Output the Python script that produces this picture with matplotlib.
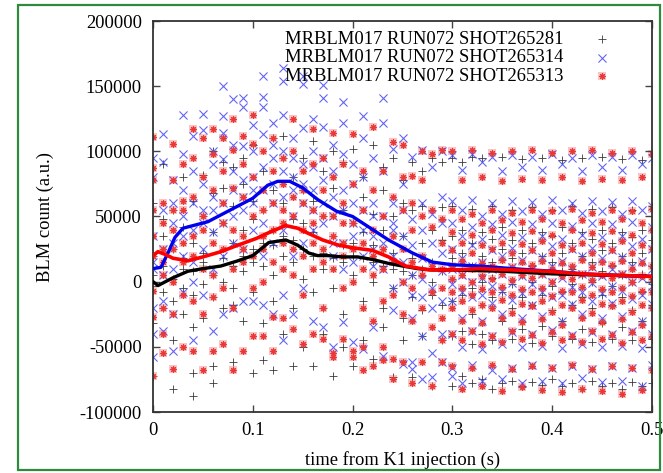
import matplotlib
matplotlib.use("Agg")
import matplotlib.pyplot as plt
from matplotlib.patches import Rectangle

plt.rcParams["font.family"] = ["Liberation Serif", "DejaVu Serif"]
plt.rcParams["font.size"] = 13.3

# sample times (s), one column of readings per time step
t_cols = [0.00, 0.01, 0.02, 0.03, 0.04, 0.05, 0.06, 0.07, 0.08, 0.09,
          0.10, 0.11, 0.12, 0.13, 0.14, 0.15, 0.16, 0.17, 0.18, 0.19,
          0.20, 0.21, 0.22, 0.23, 0.24, 0.25, 0.26, 0.27, 0.28, 0.29,
          0.30, 0.31, 0.32, 0.33, 0.34, 0.35, 0.36, 0.37, 0.38, 0.39,
          0.40, 0.41, 0.42, 0.43, 0.44, 0.45, 0.46, 0.47, 0.48, 0.49, 0.50]

# BLM counts in thousands, per time column
black_cols = [
    [-3, 5, 20, -32, -72, 60], [-8, 12, 35, -20, 48, 90], [2, -15, 25, -82, 55, -45],
    [10, -5, 42, 80, -25, 18], [-10, 8, 30, -88, -35, 62, -70], [15, -2, 50, 82, 22, -28],
    [5, -12, 38, -78, 100, 68, -65], [18, 0, 45, 72, -20, 92], [-5, 12, 30, 58, -62, -18, 88],
    [20, 8, 40, 75, -30, 95], [25, -8, 48, -70, 15, 105, 62], [30, 12, 55, -32, 85, -60],
    [28, 40, 5, 70, -68, 110, -15], [35, 20, 60, -40, 95, 112], [32, 15, 48, -65, 80, -20],
    [25, 45, 2, 95, -50, 70], [20, 38, -8, 62, 108, -65], [22, 10, 50, -40, 85, -20],
    [18, 35, -5, 72, -72, 100], [15, 28, 55, -25, 92, -50], [20, 5, 45, -65, 102, 30],
    [18, 38, -15, 80, -45, 65], [15, 28, 0, -59, 105, 52], [12, -20, 40, 88, -35, 70],
    [10, 22, -5, -73, 95, 50], [8, -28, 35, 78, -45, 60], [5, 18, -12, -73, 55, 92],
    [10, -22, 30, 58, -42, 85], [0, 15, -10, 95, -80, 40], [8, -18, 32, 57, -45, 92],
    [95, 58, 35, 18, 2, -15, -42, -80], [92, 40, 22, 8, -10, -38, -72],
    [96, 56, 30, 12, -5, -25, -48, -78], [95, 38, 20, 0, -18, -40, -75],
    [58, 33, 15, 3, -12, -45, -82], [96, 42, 25, 8, -8, -30, -78],
    [55, 32, 18, -2, -20, -44, -76], [94, 40, 22, 5, -12, -36, -80],
    [57, 30, 12, 0, -18, -47, -77], [95, 38, 20, 6, -10, -34, -79],
    [55, 35, 15, -3, -22, -42, -75], [93, 42, 22, 8, -8, -30, -80],
    [58, 30, 10, -2, -18, -44, -78], [95, 38, 20, 5, -12, -36, -82],
    [56, 33, 15, 0, -20, -46, -76], [96, 40, 24, 8, -10, -32, -80],
    [57, 30, 12, -3, -18, -44, -78], [94, 38, 20, 5, -12, -35, -82],
    [55, 34, 15, 0, -22, -45, -77], [93, 40, 22, 6, -8, -30, -80],
    [58, 32, 12, -2, -18, -44, -78],
]

blue_cols = [
    [10, 15, -20, -58, -40, 80, 95, 35], [5, 25, 113, 92, -38, 55, -15],
    [30, 45, 60, -53, 78, 10, -25], [50, 128, 98, 20, -8, 35, 70],
    [40, 60, 112, 85, -45, 15, 0], [45, 129, 116, 75, 25, -10, 55],
    [55, 38, -38, 90, 65, 10, 100], [150, 127, 94, 60, 45, 20, -25, 114],
    [50, 70, 30, -20, 85, 105, 140], [141, 134, 104, 65, 55, 25, -15, 78],
    [60, 80, 40, 100, -15, 120, 70], [158, 142, 134, 113, 88, 70, 45, -18, 20],
    [75, 95, 60, 122, 30, -25, 105], [164, 154, 128, 100, 85, 65, 40, -10, -45],
    [80, 110, 70, 50, 95, -25, 20], [158, 152, 118, 90, 60, 75, -5, 30],
    [70, 100, 55, 88, -30, 40, 125], [151, 141, 119, 95, 78, 45, 60, -35],
    [65, 85, 50, 105, -50, 20, 30], [138, 122, 98, 70, 55, 30, -31, 10],
    [60, 75, 45, 90, -46, 35, 15], [127, 110, 80, 55, 40, -52, 20],
    [60, 50, 35, 95, -35, 25, 12], [141, 122, 85, 50, 30, -57, 10],
    [45, 40, 102, 60, 20, -22, -5], [110, 75, 55, 35, -63, 15, 0],
    [96, 48, 28, 5, -10, -28, -67, -62], [101, 60, 40, 18, 2, -12, -42, -75],
    [88, 52, 30, 12, -5, -20, -55, -73], [100, 65, 45, 22, 8, -15, -40, -62],
    [97, 62, 45, 25, 10, -2, -15, -40, -66, -72], [86, 55, 35, 18, 5, -8, -28, -50, -78],
    [98, 63, 42, 28, 12, 0, -12, -38, -64], [92, 50, 33, 15, 3, -10, -30, -52, -76],
    [96, 60, 44, 24, 10, -3, -16, -42, -68], [85, 52, 36, 20, 6, -7, -25, -48, -75],
    [97, 62, 46, 26, 11, -1, -14, -39, -66], [88, 54, 34, 17, 4, -9, -28, -50, -78],
    [96, 61, 44, 24, 10, -2, -18, -40, -64], [86, 52, 35, 19, 6, -8, -26, -49, -76],
    [98, 63, 45, 27, 12, 0, -12, -37, -66], [90, 55, 33, 16, 3, -10, -30, -51, -78],
    [95, 60, 43, 25, 10, -4, -17, -41, -65], [85, 53, 36, 20, 6, -8, -25, -48, -74],
    [97, 62, 45, 26, 11, -1, -15, -39, -67], [88, 54, 34, 18, 4, -9, -28, -50, -77],
    [96, 61, 44, 24, 10, -3, -16, -40, -65], [86, 52, 35, 19, 6, -7, -26, -49, -76],
    [97, 62, 46, 27, 12, 0, -13, -38, -66], [90, 55, 33, 16, 3, -10, -30, -51, -80],
    [95, 58, 42, 25, 10, -3, -17, -40, -64],
]

red_cols = [
    [20, 111, 87, 78, -7, -27, 35, 55, -72], [15, 60, 25, -55, 5, -40, 45, -20],
    [106, 78, 40, -25, -67, 25, 0, 55], [55, 30, -10, 90, 15, -50, 62],
    [117, 95, 65, 20, -53, -15, 35], [40, 10, -25, 80, -68, 50, 110],
    [117, 98, 70, 30, -53, -12, 5], [60, 25, -48, 85, -5, 110, 45],
    [125, 101, 72, 40, 10, -68, -20], [65, 35, -53, 90, 15, 112, 25],
    [128, 106, 80, 50, 20, -42, -5], [70, 35, 100, -42, 0, 55, 25],
    [110, 85, 60, 40, -27, -53, 15], [75, 45, 95, -28, 10, 55, 30],
    [125, 100, 65, 50, 25, -36, 5], [60, 40, 85, -48, 20, 70, -10],
    [117, 90, 55, 30, -40, 10, 45], [70, 25, -44, 95, 15, 50, -20],
    [114, 80, 50, 35, -58, -55, 10], [60, 30, -44, 90, 20, -5, 45],
    [113, 75, 45, 25, -53, -58, 0], [55, 30, -50, 85, -68, 10, -20],
    [119, 70, 40, 20, -65, 5, -30], [50, 25, -50, 85, 10, -15, -60],
    [107, 65, 35, 15, -75, -10, -59], [105, 55, 25, 0, -62, -25, 80],
    [81, 40, 15, -5, -78, -30, 60], [78, 50, 20, 5, -62, -20, 100],
    [98, 42, 12, -8, -80, -35, 55], [101, 48, 30, 10, -5, -28, -62, -45],
    [100, 55, 38, 24, 12, 2, -8, -20, -40, -65], [78, 48, 30, 16, 5, -5, -15, -30, -45, -82],
    [101, 52, 36, 22, 10, 0, -10, -22, -38, -66], [80, 45, 28, 14, 4, -6, -18, -32, -48, -80],
    [99, 55, 40, 25, 12, 2, -8, -20, -42, -64], [77, 47, 30, 17, 6, -4, -14, -28, -46, -84],
    [100, 53, 37, 22, 11, 1, -10, -24, -38, -67], [79, 46, 29, 15, 5, -6, -17, -31, -44, -81],
    [101, 55, 39, 24, 13, 3, -8, -19, -41, -65], [78, 48, 31, 16, 6, -5, -15, -29, -47, -83],
    [99, 54, 36, 22, 10, 0, -11, -23, -39, -66], [80, 45, 28, 14, 4, -7, -18, -33, -45, -85],
    [100, 56, 40, 25, 12, 2, -8, -20, -42, -64], [77, 47, 30, 17, 6, -4, -14, -28, -46, -82],
    [101, 53, 37, 22, 11, 1, -10, -24, -38, -67], [79, 46, 29, 15, 5, -6, -17, -31, -44, -84],
    [99, 55, 39, 24, 13, 3, -8, -19, -41, -65], [78, 48, 31, 16, 6, -5, -15, -29, -47, -86],
    [100, 54, 36, 22, 10, 0, -11, -23, -39, -66], [80, 45, 28, 14, 4, -7, -18, -33, -45, -83],
    [98, 56, 40, 25, 12, 2, -8, -20, -42, -68],
]

# smoothed curves (thousands)
black_line_t = [0, 0.005, 0.02, 0.035, 0.05, 0.068, 0.085, 0.1, 0.116, 0.133, 0.145,
                0.156, 0.165, 0.175, 0.19, 0.205, 0.22, 0.236, 0.25, 0.265, 0.28,
                0.3, 0.35, 0.4, 0.45, 0.5]
black_line_v = [0, -3, 3, 8, 10, 12, 16, 20, 30, 32, 28, 22, 20, 20, 19, 19, 17, 14,
                12, 10, 9, 9, 8, 6, 5, 4]
red_line_t = [0, 0.005, 0.012, 0.02, 0.035, 0.05, 0.068, 0.085, 0.103, 0.12, 0.133,
              0.145, 0.153, 0.17, 0.186, 0.2, 0.22, 0.236, 0.253, 0.277, 0.3, 0.327,
              0.36, 0.394, 0.43, 0.46, 0.5]
red_line_v = [20, 23, 21, 18, 16, 19, 23, 28, 33, 39, 43, 41, 38, 32, 28, 26, 24, 19,
              12, 9, 9, 10, 9, 8, 6, 5, 4]
blue_line_t = [0, 0.008, 0.015, 0.022, 0.03, 0.04, 0.055, 0.07, 0.085, 0.1, 0.115,
               0.125, 0.137, 0.15, 0.165, 0.184, 0.2, 0.22, 0.236, 0.26, 0.28, 0.3,
               0.327, 0.36, 0.4, 0.43, 0.46, 0.5]
blue_line_v = [10, 11, 22, 34, 41, 43, 46, 52, 58, 64, 74, 77, 77, 72, 63, 54, 50, 40,
               32, 22, 15, 13, 12, 10, 8, 6, 5, 4]

labels = ["MRBLM017 RUN072 SHOT265281",
          "MRBLM017 RUN072 SHOT265314",
          "MRBLM017 RUN072 SHOT265313"]


def flatten(cols):
    xs, ys = [], []
    for t, col in zip(t_cols, cols):
        for v in col:
            xs.append(t)
            ys.append(v * 1000)
    return xs, ys


fig = plt.figure(figsize=(6.63, 4.73), dpi=100)
ax = fig.add_axes([153 / 663, 61 / 473, 499 / 663, 391 / 473])

bx, by = flatten(black_cols)
ux, uy = flatten(blue_cols)
rx, ry = flatten(red_cols)

h_red_bg = ax.scatter(rx, ry, marker="s", s=30, c="#fac4c4", linewidths=0, zorder=1)
h_black = ax.scatter(bx, by, marker="+", s=30, c="#3a3a3a", linewidths=0.6, zorder=2)
h_blue = ax.scatter(ux, uy, marker="x", s=34, c="#4a4af0", linewidths=0.8, alpha=0.85, zorder=2)
h_red = ax.scatter(rx, ry, marker=(8, 2, 0), s=18, c="#e83838", linewidths=0.8, zorder=2)

ax.plot(black_line_t, [v * 1000 for v in black_line_v], color="black", lw=2.4, zorder=4)
ax.plot(red_line_t, [v * 1000 for v in red_line_v], color="#ff0000", lw=2.6, zorder=5)
ax.plot(blue_line_t, [v * 1000 for v in blue_line_v], color="#0000ee", lw=2.4, zorder=4)

ax.set_xlim(0, 0.5)
ax.set_ylim(-100000, 200000)
ax.set_xticks([0, 0.1, 0.2, 0.3, 0.4, 0.5])
ax.set_xticklabels(["0", "0.1", "0.2", "0.3", "0.4", "0.5"])
ax.set_yticks([-100000, -50000, 0, 50000, 100000, 150000, 200000])
ax.set_yticklabels(["-100000", "-50000", "0", "50000", "100000", "150000", "200000"])
ax.tick_params(direction="in", length=5, width=1, top=True, right=True, color="#444444")
ax.tick_params(axis="x", pad=7)
ax.tick_params(axis="y", pad=8)
for sp in ax.spines.values():
    sp.set_linewidth(1.3)
    sp.set_color("#333333")

ax.set_xlabel("time from K1 injection (s)")
ax.set_ylabel("BLM count (a.u.)")
ax.xaxis.set_label_coords(0.5, -0.1)
ax.yaxis.set_label_coords(-0.198, 0.5)

leg = ax.legend([h_black, h_blue, (h_red_bg, h_red)], labels, loc="upper right",
                bbox_to_anchor=(0.945, 1.009), frameon=False, markerfirst=False,
                handlelength=1.0, handletextpad=1.6, labelspacing=0.1,
                borderpad=0.2, fontsize=13.4)

fig.patches.append(Rectangle((18 / 663, 3 / 473), 642 / 663, 465 / 473, fill=False,
                             edgecolor="#2e8b3e", linewidth=1.6,
                             transform=fig.transFigure, figure=fig))

fig.savefig("out.png", dpi=100)
